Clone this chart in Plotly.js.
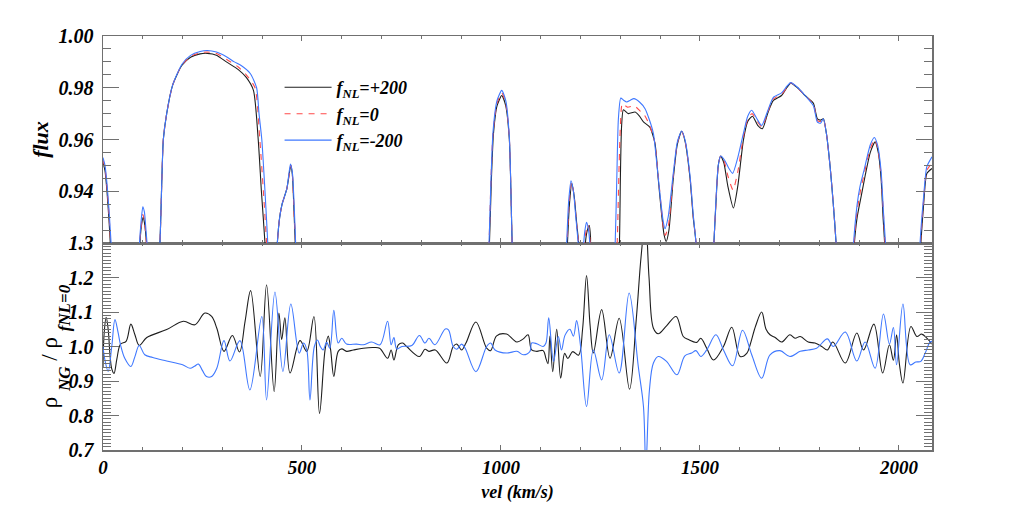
<!DOCTYPE html>
<html>
<head>
<meta charset="utf-8">
<script src="https://cdn.plot.ly/plotly-3.0.1.min.js"></script>
<style>html,body{margin:0;padding:0;background:#fff;}#chart{width:1035px;height:518px;}</style>
</head>
<body>
<div id="chart"></div>
<script>
// ---------- top panel: transmitted flux ----------
const vel_p200 = [0,5,10,15,19,24, 86,92,96,101,105,110,115,
 133,143,151.6,160,175,198,220,244,262,285,310,340,360,378,390,398,407,413,
 432,438,444,450,462,472,476,480,483,488,
 963,971,976,981,990,1002,1012,1021,1025,1028,1034,
 1160,1167,1172,1178,1184,1190,1197,1202,1206,1212,1217,1222,1225,1229,
 1290,1297.6,1300,1303,1307.6,1320,1337,1348,1358,1374,1387,1395,1403,1410,1415,1422,1433,1443,1454,1463,1475,1483,1490,1495,
 1528,1535,1540,1546,1552,1560,1570,1584,1595,1609,1620,1632,1645,1657,1670,1684,1705,1718,1728,1745,1764,1785,1795,1803,1810,1818,1827,1835,1842,1848,
 1882,1888,1895,1905,1915,1928,1940,1948,1955,1960,1964,1969,
 2049,2055,2062,2070,2083];
const flux_p200 = [0.951,0.948,0.940,0.929,0.918,0.900, 0.900,0.918,0.926,0.930,0.927,0.918,0.900,
 0.900,0.920,0.960,0.970,0.981,0.9886,0.9918,0.9931,0.9933,0.9926,0.990,0.987,0.984,0.979,0.960,0.940,0.920,0.900,
 0.900,0.920,0.930,0.935,0.941,0.950,0.946,0.932,0.920,0.900,
 0.900,0.920,0.945,0.962,0.973,0.977,0.973,0.960,0.940,0.920,0.900,
 0.900,0.920,0.935,0.943,0.938,0.928,0.917,0.900,0.900,0.920,0.925,0.9267,0.922,0.900,
 0.900,0.920,0.945,0.965,0.9715,0.970,0.9706,0.969,0.9668,0.9648,0.9585,0.945,0.932,0.923,0.9206,0.925,0.945,0.958,0.9632,0.959,0.945,0.930,0.920,0.900,
 0.900,0.920,0.935,0.950,0.9536,0.951,0.942,0.9335,0.942,0.9597,0.967,0.969,0.9655,0.9642,0.970,0.975,0.977,0.980,0.9818,0.980,0.977,0.974,0.968,0.9675,0.968,0.962,0.9495,0.935,0.920,0.900,
 0.900,0.920,0.930,0.938,0.946,0.955,0.9591,0.955,0.945,0.930,0.920,0.900,
 0.900,0.920,0.935,0.9469,0.9488];

const vel_0 = [0,5,10,15,20,25, 86,91,95,100,104,108,112,116,
 133,143,151.6,160,175,198,220,244,262,285,310,340,360,382,394,403,411,417,
 432,438,444,450,462,472,476,480,484,489,
 963,970,975,980,990,1002,1012,1021,1025,1028,1034,
 1159,1166,1171,1177,1183,1189,1196,1201,1204,1209,1213,1218,1222,1225,1229,
 1285,1292,1296,1300,1305,1318,1335,1350,1360,1372,1385,1394,1402,1408,1413,1421,1433,1443,1454,1463,1475,1483,1490,1495,
 1528,1535,1540,1546,1552,1561,1571,1583,1595,1609,1620,1631,1644,1656,1670,1684,1705,1718,1728,1745,1764,1785,1795,1803,1810,1818,1827,1835,1842,1848,
 1881,1887,1895,1903,1913,1928,1939,1947,1955,1961,1965,1970,
 2048,2054,2062,2070,2083];
const flux_0 = [0.952,0.949,0.9415,0.931,0.918,0.900, 0.900,0.918,0.925,0.931,0.929,0.922,0.915,0.900,
 0.900,0.920,0.960,0.970,0.981,0.9888,0.9921,0.9935,0.9938,0.9932,0.991,0.988,0.985,0.980,0.960,0.940,0.920,0.900,
 0.900,0.920,0.930,0.935,0.941,0.950,0.946,0.932,0.920,0.900,
 0.900,0.920,0.945,0.9625,0.974,0.978,0.974,0.9605,0.940,0.920,0.900,
 0.900,0.920,0.935,0.9435,0.939,0.929,0.918,0.900,0.900,0.918,0.924,0.927,0.924,0.918,0.900,
 0.900,0.920,0.945,0.965,0.9738,0.9725,0.973,0.971,0.9695,0.966,0.960,0.948,0.935,0.926,0.923,0.927,0.946,0.9585,0.9632,0.959,0.9455,0.9305,0.920,0.900,
 0.900,0.920,0.935,0.950,0.9536,0.9515,0.9455,0.9405,0.9475,0.961,0.968,0.970,0.967,0.9648,0.9705,0.9756,0.9775,0.980,0.9819,0.980,0.977,0.9735,0.9673,0.967,0.968,0.962,0.9495,0.935,0.920,0.900,
 0.900,0.920,0.9325,0.940,0.947,0.9565,0.960,0.9565,0.9465,0.931,0.920,0.900,
 0.900,0.920,0.9365,0.948,0.951];

const vel_m200 = [0,5,10,15,21,26, 86,91,95,100,104,108,112,117,
 133,143,151.6,160,175,198,220,244,262,285,310,330,348,370,386,392,399,407,414,420,
 432,438,444,450,462,471,476,481,484,489,
 963,970,975,980,990,1002,1012,1021,1025,1028,1034,
 1158,1165,1170,1176,1182,1188,1195,1200,1202,1207,1211,1215,1220,1224,1228,
 1280,1287,1291,1295,1301,1308,1316,1325,1334,1348,1362,1372,1383,1392,1400,1407,1412,1420,1433,1443,1454,1463,1475,1483,1490,1495,
 1528,1535,1540,1546,1552,1562,1572,1582,1595,1609,1620,1630,1643,1655,1670,1684,1705,1718,1728,1745,1764,1785,1795,1803,1810,1818,1827,1835,1842,1848,
 1880,1886,1895,1902,1912,1928,1938,1946,1955,1961,1966,1971,
 2048,2053,2062,2070,2083];
const flux_m200 = [0.953,0.950,0.943,0.933,0.918,0.900, 0.900,0.918,0.927,0.934,0.932,0.925,0.917,0.900,
 0.900,0.920,0.960,0.970,0.981,0.9890,0.9925,0.9940,0.9944,0.9938,0.9920,0.9900,0.9885,0.9855,0.980,0.970,0.960,0.940,0.920,0.900,
 0.900,0.920,0.930,0.935,0.941,0.9505,0.947,0.932,0.920,0.900,
 0.900,0.920,0.945,0.963,0.975,0.979,0.975,0.961,0.940,0.920,0.900,
 0.900,0.920,0.936,0.944,0.940,0.930,0.918,0.900,0.900,0.918,0.925,0.928,0.925,0.918,0.900,
 0.900,0.920,0.945,0.968,0.976,0.9752,0.9745,0.9752,0.9758,0.9745,0.9719,0.968,0.9623,0.950,0.938,0.929,0.9255,0.930,0.947,0.959,0.9633,0.9595,0.946,0.931,0.920,0.900,
 0.900,0.920,0.936,0.950,0.9536,0.952,0.949,0.9469,0.953,0.9623,0.969,0.9713,0.968,0.9654,0.971,0.9762,0.978,0.9805,0.9820,0.9802,0.977,0.973,0.9667,0.9663,0.968,0.962,0.9495,0.935,0.920,0.900,
 0.900,0.920,0.935,0.9418,0.948,0.958,0.9608,0.958,0.948,0.932,0.920,0.900,
 0.900,0.920,0.938,0.9495,0.9533];

// ---------- bottom panel: density ratio ----------
const vel_r_p200 = [0,3,8,13,18,22,27.6,35,44,58,70,80,91,110,160,202,231,256,273,286,304,325,343,357,371,395,411,430,442,449,457,470,495,512,530,544,558,566,572,580,591,600,612,629,654,679,695,715,724,731,742,753,763,795,809,819,835,864,880,889,901,912,937,964,974,989,1014,1031,1040,1056,1068,1077,1090,1106,1113,1118,1123,1130,1140,1150,1160,1168,1180,1195,1205,1215,1224,1232,1253,1274,1297,1323,1340,1352,1363,1372,1383,1395,1416,1440,1458,1471,1492,1502,1517,1534,1559,1580,1601,1618,1626,1640,1655,1666,1676,1689,1705,1726,1739,1752,1772,1789,1806,1820,1834,1865,1894,1911,1937,1959,1976,1986,1994,2001,2010,2030,2045,2057,2070,2083];
const ratio_p200 = [0.94,1.04,1.085,1.05,0.97,0.935,0.922,0.965,1.007,1.015,1.065,1.035,1.003,1.026,1.049,1.073,1.063,1.097,1.087,1.053,0.986,1.032,0.984,1.073,1.162,0.913,1.179,0.869,1.097,1.020,1.083,0.923,1.017,0.986,1.087,0.806,0.990,1.030,0.990,0.913,0.986,0.993,0.986,0.990,0.995,0.997,0.995,0.966,0.990,0.961,1.005,1.010,1.000,0.971,0.992,0.986,0.990,0.952,1.000,1.007,0.990,1.010,1.071,0.995,0.988,1.031,1.036,1.020,1.013,1.022,1.034,0.990,0.986,0.988,0.965,0.950,1.030,0.927,1.050,0.908,0.980,0.965,0.985,0.975,1.050,1.206,1.060,0.981,1.107,0.966,1.082,0.876,1.080,1.260,1.370,1.200,1.053,1.037,1.060,1.087,1.029,1.020,1.012,1.024,0.995,0.961,1.000,1.056,0.971,0.981,1.005,1.060,1.100,1.050,1.034,1.026,1.013,1.034,1.024,1.029,1.013,1.010,1.000,0.990,1.013,0.952,1.039,0.990,1.065,0.923,1.005,0.960,1.034,0.950,0.894,1.058,1.029,1.036,1.024,1.007];

const vel_r_m200 = [0,5,13,22,30,38,44,55,70,80,91,105,125,160,200,219,230,240,250,260,273,286,304,319,344,369,399,411,432,452,472,493,504,512,520,531,539,546,553,562,570,580,591,600,612,637,654,675,696,715,724,731,738,751,776,795,809,819,834,860,868,880,889,901,910,937,964,974,985,1015,1040,1056,1073,1077,1090,1106,1113,1120,1132,1144,1152,1161,1173,1182,1190,1200,1215,1232,1253,1272,1297,1322,1345,1358,1364,1373,1383,1395,1416,1442,1462,1479,1490,1502,1517,1540,1559,1582,1607,1630,1655,1676,1701,1726,1752,1772,1793,1820,1835,1865,1894,1915,1940,1961,1976,1986,1994,2010,2028,2042,2055,2066,2078,2083];
const ratio_m200 = [1.0,0.96,0.928,1.0,1.078,1.04,1.005,0.965,0.942,0.97,1.003,0.976,0.968,0.958,0.947,0.937,0.943,0.949,0.930,0.913,0.913,0.937,1.017,0.958,1.017,0.874,1.087,0.845,1.158,0.928,1.123,0.981,1.010,0.990,0.845,1.000,1.019,1.000,0.990,1.012,0.995,1.105,1.010,1.024,1.007,1.007,1.005,1.013,1.005,1.073,1.005,1.026,0.993,1.000,1.003,1.032,1.010,1.024,1.005,1.051,1.048,1.000,0.992,1.007,0.995,0.927,1.000,1.010,0.990,0.981,0.986,0.976,0.986,1.010,1.008,1.000,1.010,1.083,0.957,1.029,0.990,1.033,1.050,1.030,1.075,1.000,0.826,0.990,0.903,1.034,0.923,1.155,0.942,0.826,0.650,0.874,0.952,0.971,0.957,0.918,0.973,0.981,0.988,0.971,0.990,1.034,0.990,0.944,1.047,0.976,0.908,0.976,0.988,0.971,0.986,0.990,0.995,1.022,1.000,1.042,0.958,1.013,0.937,1.094,1.007,1.055,0.947,1.123,0.947,0.955,0.957,0.981,1.013,1.015];

const legendNames = ['f<sub>NL</sub>=+200','f<sub>NL</sub>=0','f<sub>NL</sub>=-200'];
const topTicks = [0.94,0.96,0.98,1.00];
const bottomTitle = 'ρ <sub><span style="font-size:17px;baseline-shift:-8px"><b><i>NG</i></b></span></sub> / ρ <sub><span style="font-size:17px;baseline-shift:-8px"><b><i>fNL=0</i></b></span></sub>';

const BLACK = '#1e1e1e', RED = '#ff4a4a', BLUE = '#3f78ff';
const SERIF = 'Liberation Serif';
const yfont = {family:SERIF, size:20, color:'#000', weight:'bold', style:'italic'};
const xfont = {family:SERIF, size:19, color:'#000', weight:'bold', style:'italic'};
const lineOpt = (c, dash, sm) => ({color:c, width:1.1, dash:dash||'solid', shape:'spline', smoothing:sm||0.6});

const traces = [
  {x:vel_p200, y:flux_p200, xaxis:'x2', yaxis:'y2', mode:'lines', name:legendNames[0], line:lineOpt(BLACK), showlegend:true},
  {x:vel_0, y:flux_0, xaxis:'x2', yaxis:'y2', mode:'lines', name:legendNames[1], line:lineOpt(RED,'6px,6px'), showlegend:true},
  {x:vel_m200, y:flux_m200, xaxis:'x2', yaxis:'y2', mode:'lines', name:legendNames[2], line:lineOpt(BLUE), showlegend:true},
  {x:vel_r_p200, y:ratio_p200, xaxis:'x', yaxis:'y', mode:'lines', line:lineOpt(BLACK,'solid',1), showlegend:false},
  {x:vel_r_m200, y:ratio_m200, xaxis:'x', yaxis:'y', mode:'lines', line:lineOpt(BLUE,'solid',1), showlegend:false}
];

const AX = '#707070';
const xcommon = {range:[0,2083], dtick:500, tick0:0, ticks:'inside', ticklen:5, tickcolor:AX, tickwidth:1,
  minor:{dtick:100, tick0:0, ticklen:3, tickcolor:AX, ticks:'inside'},
  showline:true, linecolor:AX, linewidth:1.5, mirror:'ticks', showgrid:false, zeroline:false, automargin:false};

const layout = {
  width:1035, height:518,
  margin:{l:103, r:103, t:36, b:68},
  paper_bgcolor:'#fff', plot_bgcolor:'#fff',
  showlegend:true,
  legend:{x:0.213, y:0.920, xanchor:'left', yanchor:'top', bgcolor:'rgba(0,0,0,0)', borderwidth:0,
          font:{family:SERIF, size:18, color:'#000', weight:'bold', style:'italic'},
          itemwidth:47, tracegroupgap:0},
  xaxis: Object.assign({}, xcommon, {anchor:'y', domain:[0,1], tickfont:xfont,
          title:{text:'vel (km/s)', font:{family:SERIF, size:18, color:'#000', weight:'bold', style:'italic'}, standoff:8}}),
  xaxis2: Object.assign({}, xcommon, {anchor:'y2', domain:[0,1], matches:'x', showticklabels:false}),
  yaxis: {anchor:'x', domain:[0,0.5], range:[0.7,1.3], dtick:0.1, tick0:0.7, tickformat:'.1f',
          ticks:'inside', ticklen:16, tickcolor:AX, tickwidth:1,
          minor:{dtick:0.01, tick0:0.7, ticklen:8, tickcolor:AX, ticks:'inside'},
          showline:true, linecolor:AX, linewidth:1.5, mirror:'ticks', showgrid:false, zeroline:false, automargin:false,
          tickfont:yfont, ticklabelstandoff:4},
  yaxis2: {anchor:'x2', domain:[0.5,1], range:[0.92,1.0], tickmode:'array', tickvals:topTicks, tickformat:'.2f',
          ticks:'inside', ticklen:16, tickcolor:AX, tickwidth:1,
          minor:{dtick:0.005, tick0:0.92, ticklen:8, tickcolor:AX, ticks:'inside'},
          showline:true, linecolor:AX, linewidth:1.5, mirror:'ticks', showgrid:false, zeroline:false, automargin:false,
          tickfont:yfont, ticklabelstandoff:4,
          title:{text:'flux', font:{family:SERIF, size:22, color:'#000', weight:'bold', style:'italic'}, standoff:4}},
  annotations:[
    {text:bottomTitle, xref:'paper', yref:'paper', x:-0.057, y:0.25, xanchor:'center', yanchor:'middle',
     textangle:-90, showarrow:false, font:{family:SERIF, size:23, color:'#000'}}
  ]
};

Plotly.newPlot('chart', traces, layout, {displayModeBar:false, staticPlot:true});
</script>
</body>
</html>
